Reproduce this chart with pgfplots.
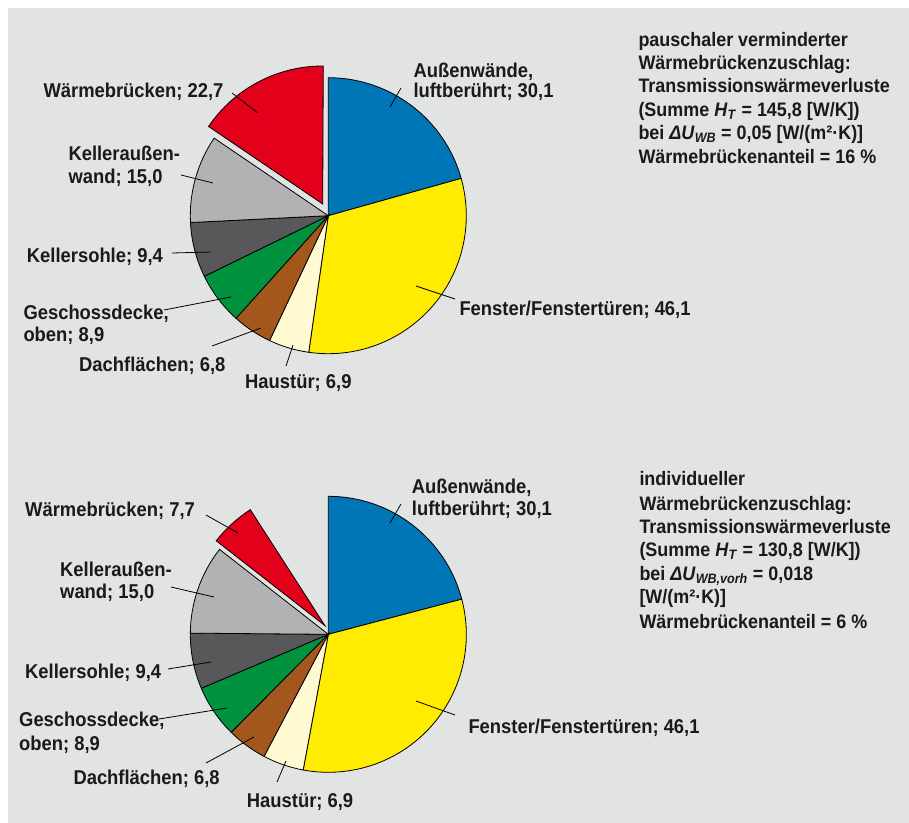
\documentclass[border=0pt]{standalone}
\usepackage{pgfplots}
\pgfplotsset{compat=1.18}
\usepackage{pgfplotstable}
\usepackage{fontspec}
\setmainfont{Liberation Sans}[FakeStretch=0.92]

\definecolor{bg}{RGB}{226,227,227}
\definecolor{cAussen}{RGB}{0,118,182}
\definecolor{cFenster}{RGB}{255,236,0}
\definecolor{cTuer}{RGB}{255,250,210}
\definecolor{cDach}{RGB}{164,87,28}
\definecolor{cDecke}{RGB}{0,146,63}
\definecolor{cSohle}{RGB}{88,88,90}
\definecolor{cKAW}{RGB}{178,178,178}
\definecolor{cWB}{RGB}{226,0,26}
\definecolor{txt}{RGB}{26,26,26}

% Transmissionswaermeverluste in W/K
\pgfplotstableread{
part val
Aussenwaende 30.1
Fenster 46.1
Haustuer 6.9
Dachflaechen 6.8
Geschossdecke 8.9
Kellersohle 9.4
Kelleraussenwand 15.0
Waermebruecken 22.7
}\topdata
\pgfplotstableread{
part val
Aussenwaende 30.1
Fenster 46.1
Haustuer 6.9
Dachflaechen 6.8
Geschossdecke 8.9
Kellersohle 9.4
Kelleraussenwand 15.0
Waermebruecken 7.7
}\botdata

% start/end angles of the slices, clockwise from 12 o'clock
\newcommand\pieangles[3]{%
  \xdef\pieacc{90}%
  \foreach \i in {0,...,7}{%
    \pgfplotstablegetelem{\i}{val}\of{#1}%
    \pgfmathsetmacro\pienext{\pieacc-\pgfplotsretval/#3*360}%
    \expandafter\xdef\csname #2s\i\endcsname{\pieacc}%
    \expandafter\xdef\csname #2e\i\endcsname{\pienext}%
    \xdef\pieacc{\pienext}%
  }%
}
\pieangles{\topdata}{T}{145.8}%
\pieangles{\botdata}{B}{144.0}%

% prefix, index, cx, cy, colour, shift
\newcommand\slice[6]{%
  \fill[#5, draw=black, line width=0.8bp, shift={#6}]
    (axis cs:#3,#4) -- ++(\csname #1s#2\endcsname:138bp)
    arc[start angle=\csname #1s#2\endcsname, end angle=\csname #1e#2\endcsname, radius=138bp]
    -- cycle;
}

\tikzset{
  lbl/.style={anchor=base west, inner sep=0pt, text=txt,
    font=\fontsize{20bp}{22bp}\selectfont\bfseries},
  info/.style={anchor=base west, inner sep=0pt, text=txt,
    font=\fontsize{19.5bp}{22bp}\selectfont\bfseries},
  lead/.style={draw=black, line width=0.8bp},
}

\begin{document}
\begin{tikzpicture}
\begin{axis}[
  at={(0,0)}, anchor=south west,
  width=909bp, height=823bp, scale only axis,
  hide axis, clip=false,
  xmin=0, xmax=909, ymin=0, ymax=823, y dir=reverse,
]
\fill[white] (axis cs:0,0) rectangle (axis cs:909,823);
\fill[bg] (axis cs:8,8) rectangle (axis cs:909,823);

% oberes Diagramm
\slice{T}{0}{328.3}{215.7}{cAussen}{(0,0)}
\slice{T}{1}{328.3}{215.7}{cFenster}{(0,0)}
\slice{T}{2}{328.3}{215.7}{cTuer}{(0,0)}
\slice{T}{3}{328.3}{215.7}{cDach}{(0,0)}
\slice{T}{4}{328.3}{215.7}{cDecke}{(0,0)}
\slice{T}{5}{328.3}{215.7}{cSohle}{(0,0)}
\slice{T}{6}{328.3}{215.7}{cKAW}{(0,0)}
\slice{T}{7}{328.3}{215.7}{cWB}{(-5.6bp,11.7bp)}

% unteres Diagramm
\slice{B}{0}{328.3}{634.3}{cAussen}{(0,0)}
\slice{B}{1}{328.3}{634.3}{cFenster}{(0,0)}
\slice{B}{2}{328.3}{634.3}{cTuer}{(0,0)}
\slice{B}{3}{328.3}{634.3}{cDach}{(0,0)}
\slice{B}{4}{328.3}{634.3}{cDecke}{(0,0)}
\slice{B}{5}{328.3}{634.3}{cSohle}{(0,0)}
\slice{B}{6}{328.3}{634.3}{cKAW}{(0,0)}
\slice{B}{7}{328.3}{634.3}{cWB}{(-3.3bp,8.6bp)}

% Beschriftung oben
\draw[lead] (axis cs:401,88) -- (axis cs:390,107);
\draw[lead] (axis cs:455,299) -- (axis cs:416,286);
\draw[lead] (axis cs:286,366) -- (axis cs:293,345);
\draw[lead] (axis cs:212,346) -- (axis cs:261,328);
\draw[lead] (axis cs:164,310) -- (axis cs:231,297);
\draw[lead] (axis cs:172,253) -- (axis cs:211,252);
\draw[lead] (axis cs:181,175) -- (axis cs:213,183);
\draw[lead] (axis cs:232,93) -- (axis cs:258,113);

\node[lbl] at (axis cs:413.3,77.3) {Außenwände,};
\node[lbl] at (axis cs:413.3,97.8) {luftberührt; 30,1};
\node[lbl] at (axis cs:459.3,315) {Fenster/Fenstertüren; 46,1};
\node[lbl] at (axis cs:245,388) {Haustür; 6,9};
\node[lbl] at (axis cs:79,371) {Dachflächen; 6,8};
\node[lbl] at (axis cs:23.3,319) {Geschossdecke,};
\node[lbl] at (axis cs:23.3,341) {oben; 8,9};
\node[lbl] at (axis cs:26.7,262.3) {Kellersohle; 9,4};
\node[lbl] at (axis cs:68.3,160.7) {Kelleraußen-};
\node[lbl] at (axis cs:68.3,183.3) {wand; 15,0};
\node[lbl] at (axis cs:43.3,97.3) {Wärmebrücken; 22,7};

\node[info] at (axis cs:638.3,46.7) {pauschaler verminderter};
\node[info] at (axis cs:638.3,70) {Wärmebrückenzuschlag:};
\node[info] at (axis cs:638.3,92.7) {Transmissionswärmeverluste};
\node[info] at (axis cs:638.3,116.7) {(Summe \textit{H}\textsubscript{\textit{T}} = 145,8 [W/K])};
\node[info] at (axis cs:638.3,139.3) {bei \textit{ΔU}\textsubscript{\textit{WB}} = 0,05 [W/(m²·K)]};
\node[info] at (axis cs:638.3,163.3) {Wärmebrückenanteil = 16 \%};

% Beschriftung unten
\draw[lead] (axis cs:401,504) -- (axis cs:390,523);
\draw[lead] (axis cs:455,715) -- (axis cs:416,701);
\draw[lead] (axis cs:277,782) -- (axis cs:286,761);
\draw[lead] (axis cs:206,763) -- (axis cs:254,737);
\draw[lead] (axis cs:159,719) -- (axis cs:227,708);
\draw[lead] (axis cs:168,669) -- (axis cs:211,662);
\draw[lead] (axis cs:171,587) -- (axis cs:214,597);
\draw[lead] (axis cs:206,515) -- (axis cs:238,533);

\node[lbl] at (axis cs:411.7,493.3) {Außenwände,};
\node[lbl] at (axis cs:411.7,515) {luftberührt; 30,1};
\node[lbl] at (axis cs:468.3,733.3) {Fenster/Fenstertüren; 46,1};
\node[lbl] at (axis cs:246.7,807) {Haustür; 6,9};
\node[lbl] at (axis cs:73.3,784) {Dachflächen; 6,8};
\node[lbl] at (axis cs:19,726.7) {Geschossdecke,};
\node[lbl] at (axis cs:19,750.7) {oben; 8,9};
\node[lbl] at (axis cs:25,678.3) {Kellersohle; 9,4};
\node[lbl] at (axis cs:60,576.7) {Kelleraußen-};
\node[lbl] at (axis cs:60,598.3) {wand; 15,0};
\node[lbl] at (axis cs:25,516.7) {Wärmebrücken; 7,7};

\node[info] at (axis cs:639.3,485.7) {individueller};
\node[info] at (axis cs:639.3,510) {Wärmebrückenzuschlag:};
\node[info] at (axis cs:639.3,533.3) {Transmissionswärmeverluste};
\node[info] at (axis cs:639.3,556.7) {(Summe \textit{H}\textsubscript{\textit{T}} = 130,8 [W/K])};
\node[info] at (axis cs:639.3,580) {bei \textit{ΔU}\textsubscript{\textit{WB,vorh}} = 0,018};
\node[info] at (axis cs:639.3,603.3) {[W/(m²·K)]};
\node[info] at (axis cs:639.3,628.3) {Wärmebrückenanteil = 6 \%};
\end{axis}
\end{tikzpicture}
\end{document}
